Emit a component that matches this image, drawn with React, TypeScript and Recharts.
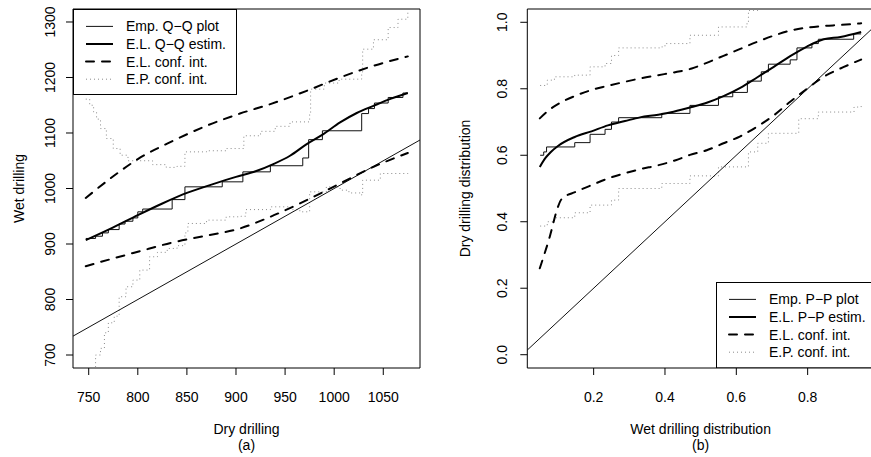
import React from 'react';
import { LineChart, Line, XAxis, YAxis, ReferenceArea, Legend, Label } from 'recharts';

const FONT = '"Liberation Sans", Arial, Helvetica, sans-serif';
const FS = 14;
const X_AXIS_H = 30;
const Y_AXIS_W = 60;

type P = [number, number];
const toPts = (a: P[]) => a.map(([x, y]) => ({ x, y }));

// ---------- panel (a): Q-Q plot ----------
const qqXTicks = [750, 800, 850, 900, 950, 1000, 1050];
const qqYTicks = [700, 800, 900, 1000, 1100, 1200, 1300];
const qqXDomain: [number, number] = [734, 1087.4];
const qqYDomain: [number, number] = [676.6, 1323.4];

const qqEmpirical: P[] = [
  [747, 910], [757, 914], [764, 920], [770, 926], [781, 936], [787, 941], [795, 947],
  [800, 958], [805, 963], [835, 980], [848, 1003], [886, 1012], [907, 1030], [935, 1041],
  [968, 1055], [974, 1088], [988, 1104], [1028, 1135], [1035, 1144], [1041, 1154],
  [1055, 1164], [1070, 1172], [1075, 1172],
];
const qqEstimate: P[] = [
  [747, 907], [775, 930], [800, 952], [825, 973], [850, 992], [875, 1007], [900, 1021],
  [920, 1031], [938, 1044], [955, 1059], [972, 1080], [989, 1098], [1006, 1119],
  [1023, 1136], [1040, 1149], [1058, 1162], [1075, 1172],
];
const qqELUpper: P[] = [
  [747, 983], [775, 1022], [800, 1053], [836, 1086], [870, 1113], [904, 1135], [935, 1152],
  [972, 1176], [1006, 1200], [1040, 1221], [1075, 1238],
];
const qqELLower: P[] = [
  [747, 860], [775, 874], [800, 886], [836, 903], [870, 915], [904, 928], [935, 949],
  [972, 979], [1006, 1009], [1040, 1039], [1075, 1064],
];
const qqEPUpper: P[] = [
  [747, 1161], [751, 1150], [755, 1138], [758, 1125], [762, 1108], [768, 1090], [775, 1072],
  [782, 1060], [790, 1050], [802, 1050], [815, 1043], [829, 1038], [840, 1040], [848, 1066],
  [870, 1068], [890, 1072], [908, 1095], [925, 1103], [940, 1112], [955, 1120], [975, 1135],
  [976, 1179], [990, 1190], [1005, 1197], [1028, 1210], [1029, 1251], [1040, 1268],
  [1055, 1290], [1065, 1305], [1075, 1322],
];
const qqEPLower: P[] = [
  [750, 640], [754, 676], [757, 700], [762, 712], [766, 740], [770, 758], [776, 770],
  [781, 805], [788, 823], [795, 835], [802, 853], [812, 877], [820, 885], [830, 892],
  [840, 897], [848, 920], [851, 937], [870, 943], [890, 949], [905, 950], [910, 962],
  [935, 967], [955, 962], [965, 958], [975, 994], [992, 1003], [1006, 997], [1015, 992],
  [1028, 988], [1029, 1015], [1047, 1027], [1075, 1026],
];
const qqIdentity: P[] = [[600, 600], [1200, 1200]];
const qqLegend = ['Emp. Q\u2212Q plot', 'E.L. Q\u2212Q estim.', 'E.L. conf. int.', 'E.P. conf. int.'];

// ---------- panel (b): P-P plot ----------
const ppXTicks = [0.2, 0.4, 0.6, 0.8];
const ppYTicks = [0, 0.2, 0.4, 0.6, 0.8, 1.0];
const ppXDomain: [number, number] = [0.014, 0.986];
const ppYDomain: [number, number] = [-0.04, 1.04];

const ppEmpirical: P[] = [
  [0.05, 0.6], [0.06, 0.61], [0.068, 0.625], [0.147, 0.638], [0.19, 0.663], [0.232, 0.678],
  [0.25, 0.7], [0.27, 0.713], [0.391, 0.726], [0.47, 0.75], [0.55, 0.776], [0.59, 0.789],
  [0.631, 0.823], [0.67, 0.851], [0.69, 0.874], [0.751, 0.887], [0.77, 0.923],
  [0.812, 0.936], [0.83, 0.949], [0.929, 0.965], [0.95, 0.965],
];
const ppEstimate: P[] = [
  [0.049, 0.565], [0.065, 0.592], [0.08, 0.61], [0.1, 0.628], [0.147, 0.655], [0.194, 0.672],
  [0.24, 0.69], [0.288, 0.703], [0.33, 0.714], [0.381, 0.722], [0.424, 0.731], [0.475, 0.745],
  [0.517, 0.758], [0.564, 0.778], [0.611, 0.803], [0.658, 0.834], [0.705, 0.866],
  [0.751, 0.898], [0.798, 0.927], [0.845, 0.949], [0.892, 0.956], [0.95, 0.971],
];
const ppELUpper: P[] = [
  [0.049, 0.711], [0.08, 0.74], [0.11, 0.76], [0.147, 0.778], [0.19, 0.795], [0.236, 0.808],
  [0.288, 0.821], [0.33, 0.831], [0.381, 0.841], [0.424, 0.849], [0.475, 0.861],
  [0.517, 0.878], [0.564, 0.899], [0.611, 0.92], [0.658, 0.941], [0.705, 0.96],
  [0.751, 0.975], [0.798, 0.984], [0.845, 0.989], [0.892, 0.992], [0.95, 0.997],
];
const ppELLower: P[] = [
  [0.049, 0.26], [0.077, 0.355], [0.1, 0.445], [0.11, 0.468], [0.15, 0.49], [0.194, 0.51],
  [0.24, 0.53], [0.288, 0.546], [0.33, 0.558], [0.381, 0.57], [0.43, 0.585], [0.47, 0.601],
  [0.517, 0.615], [0.564, 0.636], [0.611, 0.657], [0.658, 0.686], [0.705, 0.72],
  [0.751, 0.761], [0.798, 0.8], [0.845, 0.836], [0.9, 0.865], [0.95, 0.888],
];
const ppEPUpper: P[] = [
  [0.05, 0.81], [0.07, 0.826], [0.09, 0.836], [0.147, 0.841], [0.19, 0.866], [0.232, 0.876],
  [0.25, 0.9], [0.27, 0.923], [0.391, 0.926], [0.4, 0.936], [0.47, 0.961], [0.55, 0.986],
  [0.63, 1.0], [0.634, 1.036], [0.665, 1.07], [0.95, 1.1],
];
const ppEPLower: P[] = [
  [0.05, 0.387], [0.07, 0.4], [0.09, 0.412], [0.147, 0.427], [0.19, 0.45], [0.25, 0.465],
  [0.27, 0.5], [0.391, 0.515], [0.47, 0.538], [0.55, 0.565], [0.634, 0.61], [0.66, 0.636],
  [0.69, 0.666], [0.775, 0.71], [0.83, 0.73], [0.93, 0.745], [0.95, 0.756],
];
const ppIdentity: P[] = [[-0.2, -0.2], [1.2, 1.2]];
const ppLegend = ['Emp. P\u2212P plot', 'E.L. P\u2212P estim.', 'E.L. conf. int.', 'E.P. conf. int.'];

// ---------- styles ----------
const STYLES = [
  { stroke: '#111', strokeWidth: 1, dash: undefined as string | undefined },
  { stroke: '#000', strokeWidth: 2, dash: undefined as string | undefined },
  { stroke: '#000', strokeWidth: 2, dash: '8 8' },
  { stroke: '#8a8a8a', strokeWidth: 1, dash: '1 3' },
];

const LegendBox = ({ labels, width, height }: { labels: string[]; width: number; height: number }) => (
  <svg width={width} height={height} style={{ display: 'block' }}>
    <rect x={0.5} y={0.5} width={width - 1} height={height - 1} fill="#fff" stroke="#000" strokeWidth={1} />
    {labels.map((lab, i) => {
      const cy = 17.4 + i * 17.6;
      const s = STYLES[i];
      return (
        <g key={lab}>
          <line x1={13} x2={40} y1={cy} y2={cy} stroke={s.stroke} strokeWidth={s.strokeWidth}
            strokeDasharray={s.dash} strokeLinecap={i === 2 ? 'round' : 'butt'} />
          <text x={53} y={cy + 5} fontFamily={FONT} fontSize={FS} fill="#000">{lab}</text>
        </g>
      );
    })}
  </svg>
);

type PanelProps = {
  width: number;
  margin: { top: number; right: number; bottom: number; left: number };
  xDomain: [number, number];
  yDomain: [number, number];
  xTicks: number[];
  yTicks: number[];
  fmtX: (v: number) => string;
  fmtY: (v: number) => string;
  yTickOff: number;
  yTitleOff: number;
  xTitle: string;
  sub: string;
  yTitle: string;
  empirical: P[];
  estimate: P[];
  elUpper: P[];
  elLower: P[];
  epUpper: P[];
  epLower: P[];
  identity: P[];
  legendLabels: string[];
  legendPos: { left: number; top: number; width: number; height: number };
};

function Panel(p: PanelProps) {
  const xTick = (t: any) => (
    <text x={t.x} y={t.y + 26.7} textAnchor="middle" fontFamily={FONT} fontSize={FS} fill="#000">
      {p.fmtX(t.payload.value)}
    </text>
  );
  const yTick = (t: any) => {
    const bx = t.x - p.yTickOff;
    return (
      <text x={bx} y={t.y} transform={`rotate(-90 ${bx} ${t.y})`} textAnchor="middle"
        fontFamily={FONT} fontSize={FS} fill="#000">
        {p.fmtY(t.payload.value)}
      </text>
    );
  };
  const xLabel = (l: any) => {
    const vb = l.viewBox;
    const cx = vb.x + vb.width / 2;
    return (
      <g>
        <text x={cx} y={vb.y + 65.6} textAnchor="middle" fontFamily={FONT} fontSize={FS} fill="#000">{p.xTitle}</text>
        <text x={cx} y={vb.y + 82.3} textAnchor="middle" fontFamily={FONT} fontSize={FS} fill="#000">{p.sub}</text>
      </g>
    );
  };
  const yLabel = (l: any) => {
    const vb = l.viewBox;
    const bx = vb.x + vb.width - p.yTitleOff;
    const cy = vb.y + vb.height / 2;
    return (
      <text x={bx} y={cy} transform={`rotate(-90 ${bx} ${cy})`} textAnchor="middle"
        fontFamily={FONT} fontSize={FS} fill="#000">{p.yTitle}</text>
    );
  };
  const series: { d: P[]; s: number; type: any; key: string }[] = [
    { d: p.epUpper, s: 3, type: 'stepAfter', key: 'epU' },
    { d: p.epLower, s: 3, type: 'stepAfter', key: 'epL' },
    { d: p.identity, s: 0, type: 'linear', key: 'id' },
    { d: p.empirical, s: 0, type: 'stepAfter', key: 'emp' },
    { d: p.elUpper, s: 2, type: 'monotone', key: 'elU' },
    { d: p.elLower, s: 2, type: 'monotone', key: 'elL' },
    { d: p.estimate, s: 1, type: 'monotone', key: 'est' },
  ];
  return (
    <LineChart width={p.width} height={457} margin={p.margin}>
      <XAxis dataKey="x" type="number" domain={p.xDomain} allowDataOverflow ticks={p.xTicks}
        interval={0} tickSize={7} tickMargin={0} height={X_AXIS_H} axisLine={false}
        tickLine={{ stroke: '#000', strokeWidth: 1 }} tick={xTick}>
        <Label content={xLabel} />
      </XAxis>
      <YAxis dataKey="y" type="number" domain={p.yDomain} allowDataOverflow ticks={p.yTicks}
        interval={0} tickSize={7} tickMargin={0} width={Y_AXIS_W} axisLine={false}
        tickLine={{ stroke: '#000', strokeWidth: 1 }} tick={yTick}>
        <Label content={yLabel} />
      </YAxis>
      {series.map((sr) => (
        <Line key={sr.key} data={toPts(sr.d)} dataKey="y" type={sr.type}
          stroke={STYLES[sr.s].stroke} strokeWidth={STYLES[sr.s].strokeWidth}
          strokeDasharray={STYLES[sr.s].dash} strokeLinecap={sr.s === 2 ? 'round' : 'butt'}
          dot={false} activeDot={false} isAnimationActive={false} legendType="none" />
      ))}
      <ReferenceArea x1={p.xDomain[0]} x2={p.xDomain[1]} y1={p.yDomain[0]} y2={p.yDomain[1]}
        fill="none" fillOpacity={0} stroke="#000" strokeWidth={1} ifOverflow="visible" />
      <Legend layout="horizontal" verticalAlign="middle" align="center"
        width={p.legendPos.width} height={p.legendPos.height}
        wrapperStyle={{ left: p.legendPos.left, top: p.legendPos.top, width: p.legendPos.width, height: p.legendPos.height }}
        content={() => <LegendBox labels={p.legendLabels} width={p.legendPos.width} height={p.legendPos.height} />} />
    </LineChart>
  );
}

export default function App() {
  return (
    <div style={{ position: 'absolute', left: 0, top: 0, width: 871, height: 457, overflow: 'hidden', background: '#fff' }}>
      <div style={{ position: 'absolute', left: 0, top: 0 }}>
        <Panel
          width={440}
          margin={{ top: 9, right: 20, bottom: 89 - X_AXIS_H, left: 73 - Y_AXIS_W }}
          xDomain={qqXDomain} yDomain={qqYDomain} xTicks={qqXTicks} yTicks={qqYTicks}
          fmtX={(v) => String(v)} fmtY={(v) => String(v)}
          yTickOff={11} yTitleOff={49.5}
          xTitle="Dry drilling" sub="(a)" yTitle="Wet drilling"
          empirical={qqEmpirical} estimate={qqEstimate} elUpper={qqELUpper} elLower={qqELLower}
          epUpper={qqEPUpper} epLower={qqEPLower} identity={qqIdentity}
          legendLabels={qqLegend}
          legendPos={{ left: 73, top: 9, width: 164, height: 86 }}
        />
      </div>
      <div style={{ position: 'absolute', left: 440, top: 0 }}>
        <Panel
          width={460}
          margin={{ top: 9, right: 26, bottom: 89 - X_AXIS_H, left: 87.3 - Y_AXIS_W }}
          xDomain={ppXDomain} yDomain={ppYDomain} xTicks={ppXTicks} yTicks={ppYTicks}
          fmtX={(v) => v.toFixed(1)} fmtY={(v) => v.toFixed(1)}
          yTickOff={13.6} yTitleOff={57}
          xTitle="Wet drilling distribution" sub="(b)" yTitle="Dry drilling distribution"
          empirical={ppEmpirical} estimate={ppEstimate} elUpper={ppELUpper} elLower={ppELLower}
          epUpper={ppEPUpper} epLower={ppEPLower} identity={ppIdentity}
          legendLabels={ppLegend}
          legendPos={{ left: 276, top: 281.7, width: 158, height: 86.3 }}
        />
      </div>
    </div>
  );
}
